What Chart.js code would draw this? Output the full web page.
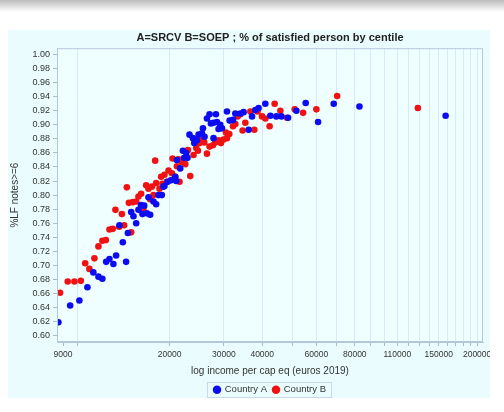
<!DOCTYPE html>
<html>
<head>
<meta charset="utf-8">
<script src="https://cdn.jsdelivr.net/npm/chart.js@4.4.0/dist/chart.umd.min.js"></script>
<style>
  html, body { margin: 0; padding: 0; background: #fff; width: 504px; height: 412px; overflow: hidden; }
  #shade { position: absolute; left: 0; top: 0; width: 504px; height: 12px; background: linear-gradient(#bdbdbd, #ffffff); }
  #box { position: absolute; left: 8px; top: 30px; width: 482px; height: 368px; background: #eafcfd; }
</style>
</head>
<body>
<div id="shade"></div>
<div id="box"><canvas id="chart" width="482" height="368"></canvas></div>
<script>
// Country A (SRCV) - income per centile and share satisfied
const incomeA = [8690, 9490, 10170, 10800, 11290, 11730, 12080, 12430, 12740, 13120,
  13390, 13730, 14080, 14430, 14620, 14990, 15250, 15560, 15830, 16120,
  16310, 16520, 16860, 17060, 17280, 17710, 18070, 18390, 18860, 19230,
  21000, 19090, 19680, 20180, 20850, 21640, 21110, 22080, 22640, 22300,
  22860, 23200, 23800, 24040, 24530, 24830, 25470, 25970, 25660, 26440,
  26960, 27240, 27780, 28500, 28280, 29210, 29580, 28840, 27780, 30720,
  31330, 32140, 32700, 33940, 34790, 36130, 37060, 37980, 38930, 40940,
  42510, 44460, 46170, 48540, 51670, 55390, 60780, 68330, 82850, 157960];
const satisfiedA = [0.619, 0.643, 0.650, 0.669, 0.690, 0.684, 0.681, 0.705, 0.709, 0.702,
  0.714, 0.757, 0.733, 0.705, 0.746, 0.776, 0.770, 0.760, 0.779, 0.786,
  0.773, 0.785, 0.774, 0.797, 0.772, 0.791, 0.787, 0.800, 0.800, 0.813,
  0.820, 0.812, 0.819, 0.821, 0.826, 0.838, 0.850, 0.863, 0.860, 0.853,
  0.853, 0.886, 0.881, 0.874, 0.878, 0.886, 0.888, 0.883, 0.895, 0.909,
  0.915, 0.902, 0.903, 0.904, 0.915, 0.900, 0.895, 0.894, 0.881, 0.919,
  0.906, 0.907, 0.916, 0.916, 0.918, 0.893, 0.912, 0.921, 0.924, 0.930,
  0.913, 0.912, 0.912, 0.910, 0.920, 0.931, 0.904, 0.930, 0.926, 0.913];

// Country B (SOEP)
const incomeB = [8800, 9320, 9800, 10280, 10620, 10960, 11380, 11730, 12080, 12400,
  12740, 13060, 13320, 13700, 13980, 14220, 14510, 14730, 14990, 15180,
  15560, 15830, 16150, 16430, 16770, 17060, 17280, 17500, 17710, 18070,
  18530, 18950, 19590, 21530, 17940, 18760, 19230, 19830, 20340, 20850,
  21110, 20430, 21370, 21920, 22470, 23330, 22930, 23910, 24400, 24720,
  24830, 25470, 25910, 25020, 26440, 26960, 27650, 28130, 28840, 29370,
  29940, 30720, 31250, 30490, 32140, 32700, 33270, 33940, 35240, 34530,
  36590, 37700, 38640, 39940, 40940, 42280, 43900, 45820, 48180, 51010,
  54330, 60010, 70100, 128300];
const satisfiedB = [0.661, 0.677, 0.677, 0.678, 0.703, 0.695, 0.710, 0.727, 0.735, 0.736,
  0.751, 0.752, 0.779, 0.755, 0.773, 0.757, 0.811, 0.789, 0.747, 0.790,
  0.791, 0.798, 0.802, 0.781, 0.814, 0.809, 0.794, 0.812, 0.800, 0.817,
  0.809, 0.816, 0.819, 0.819, 0.849, 0.826, 0.829, 0.835, 0.831, 0.826,
  0.841, 0.852, 0.851, 0.847, 0.844, 0.827, 0.864, 0.857, 0.867, 0.863,
  0.878, 0.878, 0.875, 0.874, 0.859, 0.869, 0.871, 0.875, 0.878, 0.874,
  0.879, 0.881, 0.887, 0.889, 0.898, 0.901, 0.912, 0.915, 0.903, 0.892,
  0.919, 0.893, 0.919, 0.912, 0.909, 0.898, 0.930, 0.920, 0.910, 0.922,
  0.917, 0.922, 0.941, 0.924];

const xTicks = [9000, 10000, 20000, 30000, 40000, 50000, 60000, 70000, 80000, 90000,
  100000, 110000, 120000, 130000, 140000, 150000, 160000, 170000, 180000, 190000, 200000];
const xLabels = [9000, 20000, 30000, 40000, 60000, 80000, 110000, 150000, 200000];
const yTicks = [0.60, 0.62, 0.64, 0.66, 0.68, 0.70, 0.72, 0.74, 0.76, 0.78, 0.80,
  0.82, 0.84, 0.86, 0.88, 0.90, 0.92, 0.94, 0.96, 0.98, 1.00];

Chart.defaults.font.family = "'Liberation Sans', Arial, sans-serif";

const frame = {
  id: "frame",
  beforeDraw(chart) {
    const { ctx, chartArea: a } = chart;
    ctx.save();
    ctx.fillStyle = "#effeff";
    ctx.fillRect(a.left, a.top, a.right - a.left, a.bottom - a.top);
    ctx.restore();
  },
  afterDraw(chart) {
    const { ctx, chartArea: a, legend } = chart;
    ctx.save();
    ctx.strokeStyle = "#b4c8dc";
    ctx.lineWidth = 1;
    ctx.strokeRect(a.left + 0.5, a.top + 0.5, a.right - a.left - 1, a.bottom - a.top - 1);
    const hb = legend.legendHitBoxes;
    if (hb && hb.length) {
      const last = hb[hb.length - 1];
      const l = hb[0].left - 7, r = last.left + last.width + 5;
      const t = hb[0].top - 3, h = hb[0].height + 5;
      ctx.strokeStyle = "#c9d9ea";
      ctx.strokeRect(Math.round(l) + 0.5, Math.round(t) + 0.5, Math.round(r - l), Math.round(h));
    }
    ctx.restore();
  }
};

new Chart(document.getElementById("chart"), {
  type: "scatter",
  data: {
    datasets: [
      {
        label: "Country A",
        data: incomeA.map((x, i) => ({ x: x, y: satisfiedA[i] })),
        backgroundColor: "#0c0cf2",
        borderWidth: 0,
        pointRadius: 3.3
      },
      {
        label: "Country B",
        data: incomeB.map((x, i) => ({ x: x, y: satisfiedB[i] })),
        backgroundColor: "#f01212",
        borderWidth: 0,
        pointRadius: 3.3
      }
    ]
  },
  options: {
    responsive: false,
    animation: false,
    devicePixelRatio: 1,
    layout: { padding: { left: 0, right: 7, top: 0, bottom: 0 } },
    plugins: {
      title: {
        display: true,
        fullSize: false,
        text: "A=SRCV B=SOEP ; % of satisfied person by centile",
        font: { size: 11, weight: "bold" },
        color: "#222",
        padding: { top: 1, bottom: 4 }
      },
      legend: {
        position: "bottom",
        fullSize: false,
        maxHeight: 19,
        labels: {
          usePointStyle: true,
          pointStyle: "circle",
          boxWidth: 6,
          boxHeight: 6,
          padding: 6,
          color: "#333",
          font: { size: 9.5 }
        }
      },
      tooltip: { enabled: false }
    },
    scales: {
      x: {
        type: "logarithmic",
        min: 8600,
        max: 209000,
        afterBuildTicks: s => { s.ticks = xTicks.map(v => ({ value: v })); },
        afterFit: s => { s.height = 37; s.paddingLeft = 0; s.paddingRight = 0; },
        grid: {
          color: c => (c.tick && c.tick.value === 9000 ? "rgba(0,0,0,0)" : "#d8e9f7"),
          tickColor: "#a8bcd2",
          tickLength: 4
        },
        border: { color: "#b4c8dc" },
        ticks: {
          autoSkip: false,
          maxRotation: 0,
          padding: 4,
          color: "#333",
          font: { size: 8.5 },
          callback: v => (xLabels.includes(v) ? String(v) : "")
        },
        title: {
          display: true,
          text: "log income per cap eq (euros 2019)",
          color: "#333",
          font: { size: 10 },
          padding: { top: 2, bottom: 2 }
        }
      },
      y: {
        min: 0.591,
        max: 1.009,
        afterBuildTicks: s => { s.ticks = yTicks.map(v => ({ value: v })); },
        afterFit: s => { s.width = 49; s.paddingTop = 0; s.paddingBottom = 0; },
        grid: { drawOnChartArea: false, tickColor: "#a8bcd2", tickLength: 4 },
        border: { color: "#b4c8dc" },
        ticks: {
          padding: 3,
          color: "#333",
          font: { size: 9 },
          callback: v => v.toFixed(2)
        },
        title: {
          display: true,
          text: "%LF notes>=6",
          color: "#333",
          font: { size: 10 },
          padding: { top: 1, bottom: 0 }
        }
      }
    }
  },
  plugins: [frame]
});
</script>
</body>
</html>
